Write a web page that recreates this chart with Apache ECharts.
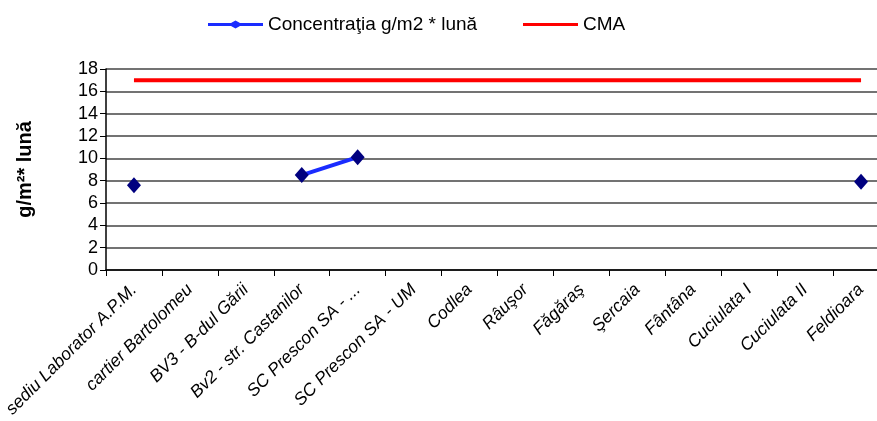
<!DOCTYPE html>
<html><head><meta charset="utf-8">
<script src="https://cdn.jsdelivr.net/npm/echarts@6/dist/echarts.min.js"></script>
<style>html,body{margin:0;padding:0;background:#fff}#c{width:877px;height:421px}</style>
</head><body><div id="c"></div>
<script>
var categories = ['sediu Laborator A.P.M.','cartier Bartolomeu','BV3 - B-dul Gării','Bv2 - str. Castanilor','SC Prescon SA - ...','SC Prescon SA - UM','Codlea','Râuşor','Făgăraş','Şercaia','Fântâna','Cuciulata I','Cuciulata II','Feldioara'];
var concentratie = [7.6, null, null, 8.5, 10.1, null, null, null, null, null, null, null, null, 7.9];
var cma = [17,17,17,17,17,17,17,17,17,17,17,17,17,17];
var yTicks = {min:0, max:18, interval:2};
var chart = echarts.init(document.getElementById('c'));
var legendText = {fontSize:19,color:'#000'};
chart.setOption({
  animation:false,
  textStyle:{fontFamily:'Liberation Sans, Arial, sans-serif'},
  legend:[
    {top:10,left:203,itemWidth:55,itemHeight:8,textStyle:legendText,
     data:[{name:'Concentraţia g/m2 * lună',icon:'path://M0,2.5 L23,2.5 L27.5,0 L32,2.5 L55,2.5 L55,5.5 L32,5.5 L27.5,8 L23,5.5 L0,5.5 Z',itemStyle:{color:'#1a2cff'}}]},
    {top:10,left:518,itemWidth:55,itemHeight:8,textStyle:legendText,
     data:[{name:'CMA',icon:'path://M0,2.5 L55,2.5 L55,5.5 L0,5.5 Z'}]}
  ],
  grid:{left:106,width:783,top:69,bottom:151,outerBoundsMode:'none',containLabel:false},
  xAxis:{type:'category',data:categories,boundaryGap:true,
    axisLine:{lineStyle:{color:'#000',width:1.5}},
    axisTick:{show:true,length:6,lineStyle:{color:'#000'}},
    axisLabel:{interval:0,rotate:45,fontStyle:'italic',fontSize:17.5,color:'#000',margin:17}},
  yAxis:{type:'value',min:yTicks.min,max:yTicks.max,interval:yTicks.interval,
    name:'g/m²* lună',nameLocation:'middle',nameGap:71,nameRotate:90,
    nameTextStyle:{fontWeight:'bold',fontSize:20,color:'#000'},
    axisLine:{show:true,lineStyle:{color:'#000',width:1.5}},
    axisTick:{show:true,length:6,lineStyle:{color:'#000'}},
    axisLabel:{fontSize:18,color:'#000',margin:8},
    splitLine:{lineStyle:{color:'#444',width:1.5}}},
  series:[
    {name:'Concentraţia g/m2 * lună',type:'line',data:concentratie,connectNulls:false,
     symbol:'diamond',symbolSize:[14,16],
     lineStyle:{color:'#1a2cff',width:4},itemStyle:{color:'#00007f'},z:3},
    {name:'CMA',type:'line',data:cma,symbol:'none',
     lineStyle:{color:'#ff0000',width:4},itemStyle:{color:'#ff0000'},z:2}
  ]
});
</script></body></html>
